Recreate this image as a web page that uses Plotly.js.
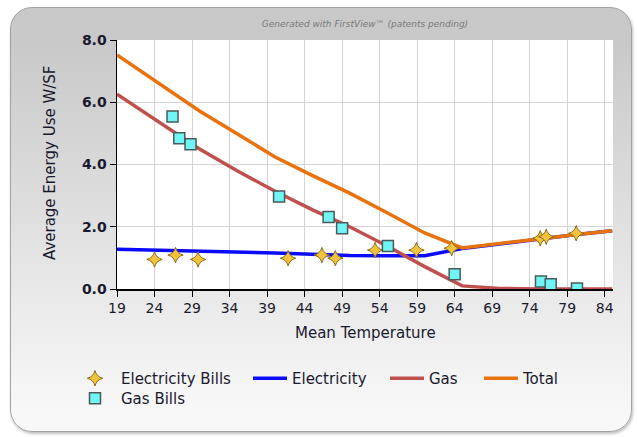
<!DOCTYPE html>
<html>
<head>
<meta charset="utf-8">
<script src="https://cdn.plot.ly/plotly-3.0.1.min.js"></script>
<style>
  html, body { margin: 0; padding: 0; background: #ffffff; width: 637px; height: 437px; overflow: hidden; }
  #frame { position: absolute; left: 10px; top: 7px; width: 620px; height: 423px;
           border: 1px solid #a2a2a2; border-radius: 22px;
           background: linear-gradient(to bottom, #c8c8c8 0%, #c9c9c9 8%, #f8f8f8 96%);
           box-shadow: 1px 2px 3px rgba(0,0,0,0.25); }
  #chart { position: absolute; left: 0; top: 0; width: 637px; height: 437px; }
</style>
</head>
<body>
<div id="frame"></div>
<div id="chart"></div>
<script>
// Bill observations
const elecBillTemp = [24, 26.8, 29.8, 41.8, 46.3, 48.1, 53.4, 58.9, 63.6, 75.4, 76.2, 80.2];
const elecBillUse  = [0.95, 1.09, 0.95, 0.99, 1.09, 0.99, 1.25, 1.25, 1.31, 1.63, 1.68, 1.79];
const gasBillTemp  = [26.4, 27.3, 28.8, 40.6, 47.2, 49.0, 55.1, 64.0, 75.5, 76.8, 80.3];
const gasBillUse   = [5.54, 4.84, 4.65, 2.97, 2.31, 1.95, 1.38, 0.47, 0.24, 0.15, 0.02];

// Model lines
const modelTemp  = [19, 25, 30, 35, 40, 45, 50, 55, 60, 65, 70, 75, 80, 85];
const elecModel  = [1.28, 1.25, 1.22, 1.19, 1.16, 1.12, 1.08, 1.07, 1.07, 1.30, 1.45, 1.60, 1.74, 1.87];
const gasModel   = [6.26, 5.30, 4.50, 3.80, 3.15, 2.55, 2.00, 1.38, 0.72, 0.10, 0.02, 0.00, 0.00, 0.00];
const totalModel = [7.52, 6.55, 5.72, 4.99, 4.25, 3.65, 3.08, 2.45, 1.80, 1.32, 1.45, 1.60, 1.74, 1.87];

const xTicks = [19, 24, 29, 34, 39, 44, 49, 54, 59, 64, 69, 74, 79, 84];
const yTicks = [0, 2, 4, 6, 8];
const xTitle = 'Mean Temperature';
const yTitle = 'Average Energy Use W/SF';

const FONT = 'DejaVu Sans, Verdana, sans-serif';
const TXT = '#1a1a2e';
const W = 637, H = 437;
const M = { l: 117, r: 24, t: 40, b: 148 };
const plotW = W - M.l - M.r, plotH = H - M.t - M.b;
const cx = px => px / W;
const cy = py => 1 - py / H;
const px2paperX = px => (px - M.l) / plotW;
const py2paperY = py => (H - M.b - py) / plotH;

const traces = [
  { x: modelTemp, y: elecModel, name: 'Electricity', mode: 'lines', legend: 'legend2',
    line: { color: '#0a0aff', width: 3.5 } },
  { x: modelTemp, y: gasModel, name: 'Gas', mode: 'lines', legend: 'legend3',
    line: { color: '#c0504d', width: 3.5 } },
  { x: modelTemp, y: totalModel, name: 'Total', mode: 'lines', legend: 'legend4',
    line: { color: '#e8720c', width: 3.5 } },
  { x: elecBillTemp, y: elecBillUse, name: 'Electricity Bills', mode: 'markers', legend: 'legend',
    marker: { symbol: 'star-diamond', size: 11, color: '#f2c23a', line: { color: '#8a6d1a', width: 1 } } },
  { x: gasBillTemp, y: gasBillUse, name: 'Gas Bills', mode: 'markers', legend: 'legend5',
    marker: { symbol: 'square', size: 11, color: '#6ff5f5', line: { color: '#4a5a5a', width: 1.5 } } }
];

const legendBase = {
  bgcolor: 'rgba(0,0,0,0)', borderwidth: 0,
  font: { family: FONT, size: 15, color: TXT },
  xref: 'container', yref: 'container', xanchor: 'left', yanchor: 'top',
  orientation: 'v', tracegroupgap: 0
};

const layout = {
  width: W, height: H,
  paper_bgcolor: 'rgba(0,0,0,0)',
  plot_bgcolor: '#ffffff',
  margin: { l: M.l, r: M.r, t: M.t, b: M.b, autoexpand: false },
  font: { family: FONT, color: TXT },
  title: { text: 'Generated with FirstView\u2122 (patents pending)',
           font: { family: FONT, size: 9, color: '#7a7a7a', style: 'italic' },
           xref: 'container', yref: 'container', x: cx(365), y: cy(24),
           xanchor: 'center', yanchor: 'middle' },
  xaxis: {
    range: [19, 85.1], tickvals: xTicks, ticktext: xTicks.map(String),
    showgrid: true, gridcolor: '#d4d4d4', gridwidth: 1,
    zeroline: false, showline: true, linecolor: '#000', linewidth: 1.5,
    ticks: 'outside', ticklen: 6, tickcolor: '#000',
    tickfont: { family: FONT, size: 14, color: TXT }
  },
  yaxis: {
    range: [0, 8], tickvals: yTicks, tickformat: '.1f',
    showgrid: true, gridcolor: '#d4d4d4', gridwidth: 1,
    zeroline: false, showline: true, linecolor: '#000', linewidth: 1.5,
    ticks: 'outside', ticklen: 6, tickcolor: '#000',
    tickfont: { family: FONT, size: 14, color: TXT, weight: 'bold' }
  },
  annotations: [
    { text: xTitle, xref: 'paper', yref: 'paper', x: px2paperX(365), y: py2paperY(333),
      xanchor: 'center', yanchor: 'middle', showarrow: false,
      font: { family: FONT, size: 15, color: TXT } },
    { text: yTitle, xref: 'paper', yref: 'paper', x: px2paperX(50), y: py2paperY(163),
      xanchor: 'center', yanchor: 'middle', showarrow: false, textangle: -90,
      font: { family: FONT, size: 15, color: TXT } }
  ],
  legend:  Object.assign({}, legendBase, { x: cx(69),  y: cy(362), itemwidth: 42 }),
  legend5: Object.assign({}, legendBase, { x: cx(69),  y: cy(382), itemwidth: 42 }),
  legend2: Object.assign({}, legendBase, { x: cx(248), y: cy(362), itemwidth: 34 }),
  legend3: Object.assign({}, legendBase, { x: cx(385), y: cy(362), itemwidth: 34 }),
  legend4: Object.assign({}, legendBase, { x: cx(479), y: cy(362), itemwidth: 34 }),
  showlegend: true
};

Plotly.newPlot('chart', traces, layout, { displayModeBar: false, staticPlot: true });
</script>
</body>
</html>
